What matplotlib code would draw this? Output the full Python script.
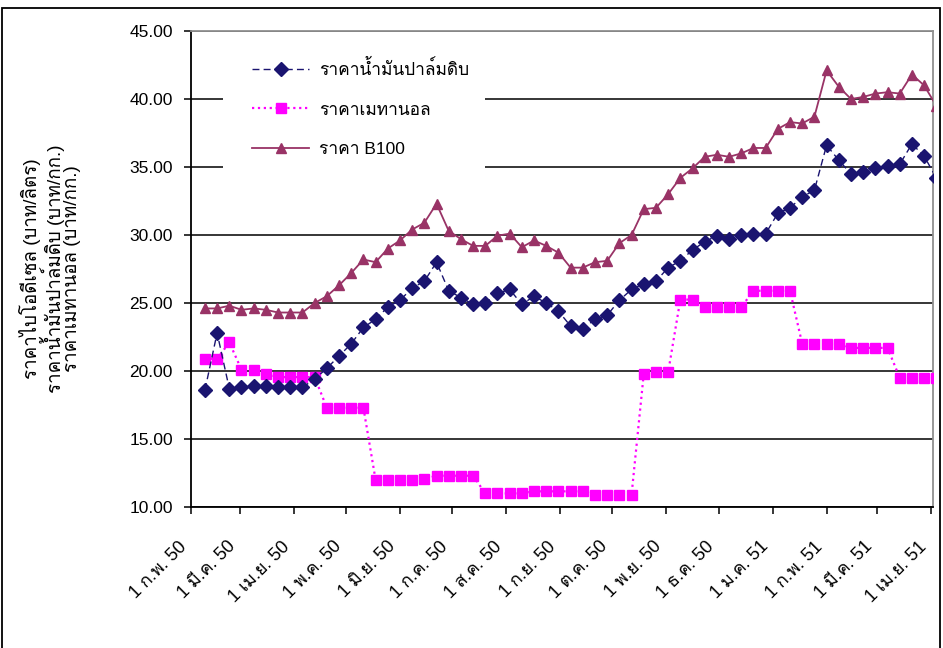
import numpy as np
import pandas as pd
import matplotlib
matplotlib.use('Agg')
import matplotlib.pyplot as plt
from matplotlib import font_manager
from matplotlib.ft2font import FT2Font
from matplotlib.patches import Rectangle
from matplotlib.transforms import ScaledTranslation

# weekly prices, 9 Feb 2007 .. 4 Apr 2008
dates = pd.date_range('2007-02-09', periods=61, freq='7D')

palm = [18.6, 22.8, 18.7, 18.8, 18.9, 18.9, 18.8, 18.8, 18.8, 19.4,
        20.2, 21.1, 22.0, 23.2, 23.8, 24.7, 25.2, 26.1, 26.6, 28.0,
        25.9, 25.4, 24.9, 25.0, 25.7, 26.0, 24.9, 25.5, 25.0, 24.4,
        23.3, 23.1, 23.8, 24.1, 25.2, 26.0, 26.4, 26.6, 27.6, 28.1,
        28.9, 29.5, 29.95, 29.7, 30.0, 30.1, 30.1, 31.6, 32.0, 32.8,
        33.3, 36.6, 35.5, 34.5, 34.65, 34.9, 35.1, 35.2, 36.7, 35.8,
        34.2]

methanol = [20.9, 20.9, 22.1, 20.1, 20.1, 19.8, 19.55, 19.55, 19.55, 19.55,
            17.3, 17.3, 17.3, 17.3, 12.0, 12.0, 12.0, 12.0, 12.05, 12.3,
            12.3, 12.3, 12.3, 11.0, 11.0, 11.0, 11.0, 11.15, 11.15, 11.15,
            11.15, 11.15, 10.9, 10.9, 10.9, 10.9, 19.8, 19.9, 19.9, 25.25,
            25.25, 24.7, 24.7, 24.7, 24.7, 25.9, 25.9, 25.9, 25.9, 22.0,
            22.0, 22.0, 22.0, 21.7, 21.7, 21.7, 21.7, 19.5, 19.5, 19.5,
            19.5]

b100 = [24.6, 24.6, 24.8, 24.5, 24.6, 24.5, 24.3, 24.3, 24.3, 25.0,
        25.5, 26.3, 27.2, 28.2, 28.0, 29.0, 29.6, 30.4, 30.9, 32.3,
        30.3, 29.7, 29.2, 29.2, 29.95, 30.1, 29.1, 29.6, 29.2, 28.7,
        27.6, 27.6, 28.0, 28.1, 29.4, 30.0, 31.9, 32.0, 33.0, 34.2,
        34.9, 35.75, 35.9, 35.75, 36.0, 36.4, 36.4, 37.8, 38.3, 38.2,
        38.7, 42.1, 40.9, 40.0, 40.15, 40.4, 40.5, 40.4, 41.8, 41.0,
        39.5]

tick_dates = pd.date_range('2007-02-01', '2008-04-01', freq='MS')
tick_labels = ['1 ก.พ. 50', '1 มี.ค. 50', '1 เม.ย. 50', '1 พ.ค. 50',
               '1 มิ.ย. 50', '1 ก.ค. 50', '1 ส.ค. 50', '1 ก.ย. 50',
               '1 ต.ค. 50', '1 พ.ย. 50', '1 ธ.ค. 50', '1 ม.ค. 51',
               '1 ก.พ. 51', '1 มี.ค. 51', '1 เม.ย. 51']

names = ['ราคาน้ำมันปาล์มดิบ', 'ราคาเมทานอล', 'ราคา B100']
ylabel = 'ราคาไบโอดีเซล (บาท/ลิตร)\nราคาน้ำมันปาล์มดิบ (บาท/กก.)\nราคาเมทานอล (บาท/กก.)'


def thai_font():
    for f in font_manager.fontManager.ttflist:
        try:
            if FT2Font(f.fname).get_char_index(0x0E23):
                return f.name
        except Exception:
            pass
    return 'DejaVu Sans'


plt.rcParams['font.family'] = ['Liberation Sans', thai_font(), 'DejaVu Sans']
plt.rcParams['font.size'] = 12

fig = plt.figure(figsize=(9.43, 6.48), dpi=100)
ax = fig.add_axes([191 / 943, 1 - 507 / 648, (933 - 191) / 943, (507 - 31) / 648])

ax.plot(dates, palm, color='#1a1470', ls=(0, (5, 3)), lw=1.0,
        marker='D', ms=7, label=names[0], zorder=4)
ax.plot(dates, methanol, color='#ff00ff', ls=':', lw=1.6,
        marker='s', ms=7.5, label=names[1], zorder=3)
ax.plot(dates, b100, color='#993366', ls='-', lw=1.3,
        marker='^', ms=7.5, label=names[2], zorder=4)

start = pd.Timestamp('2007-02-01')
ax.set_xlim(start, start + pd.Timedelta(days=426.1))
ax.set_ylim(10, 45)
ax.set_yticks(np.arange(10, 46, 5))
ax.yaxis.set_major_formatter(plt.FormatStrFormatter('%.2f'))
ax.set_xticks(tick_dates)

ax.grid(axis='y', color='black', lw=1.1)
ax.set_axisbelow(True)
ax.tick_params(axis='both', direction='out', length=5, width=1.1, color='black')
ax.tick_params(axis='y', pad=8, labelsize=12.5)
ax.tick_params(axis='x', pad=16)

ax.set_xticklabels(tick_labels, rotation=45, ha='right', va='center',
                   rotation_mode='anchor', fontsize=13)
shift = ScaledTranslation(-7 / 100, -8 / 100, fig.dpi_scale_trans)
for lbl in ax.get_xticklabels():
    lbl.set_transform(lbl.get_transform() + shift)

for side in ['left', 'bottom']:
    ax.spines[side].set_color('black')
    ax.spines[side].set_linewidth(1.3)
for side in ['top', 'right']:
    ax.spines[side].set_color('#909090')
    ax.spines[side].set_linewidth(1.3)

ax.set_ylabel(ylabel, fontsize=13.5, linespacing=0.95)
ax.yaxis.set_label_coords(-0.148, 0.5)

# white box behind the legend hides the gridlines there
ax.add_patch(Rectangle(((223 - 191) / 742, (507 - 180) / 476), 262 / 742, 146 / 476,
                       transform=ax.transAxes, facecolor='white',
                       edgecolor='none', zorder=5))
leg = ax.legend(loc='upper left', bbox_to_anchor=((252 - 191) / 742, (507 - 59) / 476),
                frameon=False, handlelength=3.3, labelspacing=1.4,
                borderpad=0, borderaxespad=0, handletextpad=0.55,
                fontsize=12.5)
leg.set_zorder(6)

# outer chart border
fig.patches.append(Rectangle((2 / 943, -0.05), 938 / 943, 1.05 - 8 / 648,
                             transform=fig.transFigure, fill=False,
                             edgecolor='black', lw=1.3))

fig.savefig('out.png', dpi=100)
